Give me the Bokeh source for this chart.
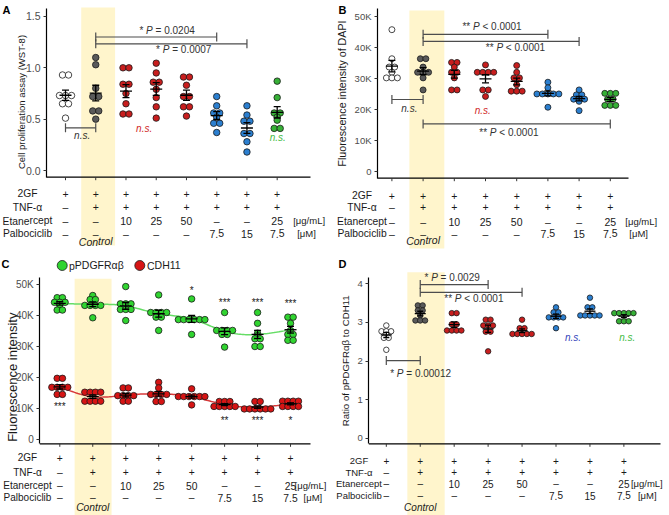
import numpy as np
from bokeh.plotting import figure
from bokeh.models import Range1d, LinearAxis, FixedTicker
from bokeh.layouts import row, column
from bokeh.embed import file_html
from bokeh.resources import INLINE
from bokeh.core.properties import value

FONT = "Liberation Sans"

# ---------------- data ----------------
columns = [1, 2, 3, 4, 5, 6, 7, 8]
row_names = ["2GF", "TNF-α", "Etanercept", "Palbociclib"]
row_2gf = ["+", "+", "+", "+", "+", "+", "+", "+"]
row_tnf = ["–", "+", "+", "+", "+", "+", "+", "+"]
row_etan = ["–", "–", "10", "25", "50", "–", "–", "25"]
row_palbo = ["–", "–", "–", "–", "–", "7.5", "15", "7.5"]
unit_etan = "[μg/mL]"
unit_palbo = "[μM]"
control_text = "Control"
control_col = 2
group_kind = ["white", "gray", "red", "red", "red", "blue", "blue", "green"]

# A: cell proliferation (WST-8)
wst8 = [
    [0.93, 0.93, 0.73, 0.73, 0.73, 0.65, 0.65, 0.51],
    [1.10, 1.03, 0.80, 0.72, 0.72, 0.58, 0.58, 0.50],
    [1.00, 1.00, 0.84, 0.84, 0.75, 0.65, 0.55, 0.55],
    [1.045, 0.95, 0.86, 0.86, 0.79, 0.71, 0.62, 0.51],
    [0.91, 0.91, 0.83, 0.72, 0.72, 0.62, 0.62, 0.53],
    [0.72, 0.63, 0.56, 0.56, 0.52, 0.46, 0.46, 0.37],
    [0.63, 0.54, 0.48, 0.48, 0.36, 0.36, 0.28, 0.18],
    [0.87, 0.71, 0.56, 0.56, 0.52, 0.49, 0.41, 0.41],
]
a_ticks = [0.0, 0.5, 1.0, 1.5]
a_tick_labels = ["0.0", "0.5", "1.0", "1.5"]
a_br_from = [1, 2, 2]
a_br_to = [2, 6, 7]
a_br_y = [0.416, 1.30, 1.233]
a_txt = ["* P = 0.0204", "* P = 0.0007"]
a_txt_x = [4.36, 4.91]
a_txt_y = [1.365, 1.175]
a_ns_x = [1.55, 3.6, 8.02]
a_ns_y = [0.34, 0.405, 0.32]
a_ns_kind = ["black", "red", "green"]

# B: DAPI fluorescence
dapi = [
    [45800, 36400, 33700, 33700, 32000, 30200, 30200, 30200],
    [36400, 36400, 33700, 32000, 32000, 32000, 30200, 26300],
    [35200, 35200, 33700, 32000, 32000, 30200, 26300, 26300],
    [34400, 32000, 32000, 32000, 32000, 26300, 26300, 24200],
    [34200, 32000, 30200, 30200, 28000, 25900, 25900, 25900],
    [28800, 27000, 25000, 25000, 25000, 25000, 25000, 20700],
    [26300, 24700, 24700, 23300, 23300, 23300, 22600, 19600],
    [25200, 25200, 25200, 23300, 23300, 21300, 21300, 21300],
]
k_ticks = [0, 10000, 20000, 30000, 40000, 50000]
k_tick_labels = ["0", "10K", "20K", "30K", "40K", "50K"]
b_br_from = [1, 2, 2, 2]
b_br_to = [2, 6, 7, 8]
b_br_y = [23200, 44300, 42000, 15300]
b_txt = ["** P < 0.0001", "** P < 0.0001", "** P < 0.0001"]
b_txt_x = [4.21, 4.96, 4.75]
b_txt_y = [46700, 40100, 12600]
b_ns_x = [1.56, 3.91]
b_ns_y = [20200, 19600]
b_ns_kind = ["black", "red"]

# C: pPDGFRab and CDH11 fluorescence
pdgfr = [
    [45800, 45800, 44300, 44300, 44300, 43500, 41800, 41800],
    [46500, 45200, 45200, 43300, 43300, 43300, 43300, 39300],
    [49400, 43800, 43800, 43800, 42000, 42000, 42000, 38400],
    [46700, 41000, 41000, 41000, 41000, 39500, 39500, 35200],
    [45400, 38700, 38700, 38700, 38700, 38700, 38700, 33900],
    [41000, 35200, 35200, 35200, 35200, 33900, 33900, 29800],
    [41000, 37500, 34300, 33500, 32500, 32500, 30000, 30000],
    [39500, 39500, 37500, 35200, 33900, 33900, 32000, 32000],
]
cdh11 = [
    [19700, 19700, 16800, 16800, 16800, 16800, 14500, 14500],
    [15200, 15200, 15200, 15200, 12300, 12300, 12300, 12300],
    [16600, 16600, 14100, 14100, 14100, 14100, 12300, 12300],
    [18400, 16600, 14500, 14500, 14500, 14500, 12200, 12200],
    [16300, 13800, 13800, 13800, 13800, 13800, 13800, 11100],
    [12200, 12200, 12200, 10600, 10600, 10600, 10600, 10600],
    [12200, 12200, 9800, 9800, 9800, 9800, 9800, 9800],
    [12300, 12300, 12300, 12300, 10600, 10600, 10600, 10600],
]
series_names = ["pPDGFRαβ", "CDH11"]
c_sig_top = ["", "", "", "", "*", "***", "***", "***"]
c_sig_top_y = [0, 0, 0, 0, 48800, 44900, 44800, 44600]
c_sig_bot = ["***", "", "", "", "", "**", "***", "*"]
c_sig_bot_y = [11200, 0, 0, 0, 0, 6600, 6800, 6800]

# D: ratio
ratio = [
    [2.92, 2.77, 2.77, 2.77, 2.68, 2.60, 2.60, 2.29],
    [3.44, 3.44, 3.31, 3.31, 3.18, 3.05, 3.05, 3.05],
    [3.24, 3.24, 2.95, 2.95, 2.79, 2.79, 2.79, 2.79],
    [3.07, 3.07, 2.92, 2.92, 2.92, 2.76, 2.76, 2.25],
    [3.07, 2.85, 2.85, 2.70, 2.70, 2.70, 2.70, 2.70],
    [3.39, 3.26, 3.26, 3.13, 3.13, 3.13, 3.13, 2.85],
    [3.64, 3.39, 3.39, 3.18, 3.18, 3.18, 3.18, 3.18],
    [3.24, 3.24, 3.24, 3.24, 3.24, 3.03, 3.03, 3.03],
]
d_ticks = [0, 1, 2, 3, 4]
d_tick_labels = ["0", "1", "2", "3", "4"]
d_br_from = [1, 2, 2]
d_br_to = [2, 4, 5]
d_br_y = [2.01, 3.98, 3.78]
d_txt = ["* P = 0.00012", "* P = 0.0029", "** P < 0.0001"]
d_txt_x = [2.01, 2.94, 3.58]
d_txt_y = [1.67, 4.17, 3.61]
d_ns_x = [6.50, 8.10]
d_ns_y = [2.60, 2.60]
d_ns_kind = ["blue2", "green"]

# ---------------- styles ----------------
FILL = {"white": "white", "gray": "#5a5a5a", "red": "#c81e1e",
        "blue": "#2b7fd0", "green": "#36b036"}
NS_COLOR = {"black": "#333333", "red": "#d02828", "green": "#44bb44", "blue2": "#3344bb"}
C_GREEN, C_RED = "#30d430", "#d61414"
BAND = "#fff5cc"
TXT = "#1a1a1a"
TINY = 1e-4   # near-zero text angle: keeps glyphs upright, avoids colour-fringed hinting

W_EM = {"*": 0.389, " ": 0.278, "P": 0.667, "=": 0.584, "<": 0.584, ".": 0.278}


def tw(s, fs):
    return sum(W_EM.get(c, 0.556) for c in s) * fs


class Geo:
    def __init__(self, W, H, fl, c1, sx, y0, sy):
        self.W, self.H, self.fl, self.c1 = W, H, fl, c1
        self.sx, self.y0, self.sy = sx, y0, sy

    def X(self, px):
        return 1 + (px - self.c1) / self.sx

    def Y(self, py):
        return (self.y0 - py) / self.sy

    def DX(self, px):
        return px / self.sx

    def DY(self, px):
        return px / self.sy


def new_fig(g):
    p = figure(width=g.W, height=g.H, output_backend="svg", toolbar_location=None,
               x_axis_type=None, y_axis_type=None,
               x_range=Range1d(g.X(0), g.X(g.W)),
               y_range=Range1d(g.Y(g.H), g.Y(0)),
               min_border_left=0, min_border_right=0,
               min_border_top=0, min_border_bottom=0)
    p.outline_line_color = None
    p.background_fill_color = "white"
    p.border_fill_color = "white"
    return p


def txt(p, xs, ys, texts, fs, align="center", baseline="middle", color=TXT,
        style="normal", angle=TINY):
    p.text(x=xs, y=ys, text=texts, text_font=value(FONT), text_font_size=fs,
           text_align=align, text_baseline=baseline, text_color=color,
           text_font_style=style, angle=angle)


def add_band(p, g, left, right, top_px, bot_px):
    p.quad(left=[left], right=[right], top=[g.Y(top_px)], bottom=[g.Y(bot_px)],
           fill_color=BAND, line_color=None)


def add_axes(p, g, ticks, labels, top_px, xaxis_px, end_px, fs, standoff=3):
    ax = LinearAxis(ticker=FixedTicker(ticks=ticks),
                    major_label_overrides={t: l for t, l in zip(ticks, labels)},
                    bounds=(g.Y(xaxis_px), g.Y(top_px)),
                    fixed_location=g.X(g.fl),
                    axis_line_color="black", axis_line_width=1.2,
                    major_tick_line_color="#333333", major_tick_out=3, major_tick_in=0,
                    minor_tick_out=0, minor_tick_in=0,
                    major_label_text_font=FONT, major_label_text_font_size=fs,
                    major_label_text_color="#4d4d4d", major_label_standoff=standoff)
    p.add_layout(ax, "left")
    yx = g.Y(xaxis_px)
    p.segment(x0=[g.X(g.fl)], y0=[yx], x1=[g.X(end_px)], y1=[yx],
              line_color="black", line_width=1.2)
    p.segment(x0=columns, y0=[yx] * 8, x1=columns, y1=[g.Y(xaxis_px + 3)] * 8,
              line_color="#333333", line_width=1)


def add_table(p, g, rows_px, control_px, label_cx, fs, label_fs, unit_off):
    for vals, rp in zip([row_2gf, row_tnf, row_etan, row_palbo], rows_px):
        txt(p, columns, [g.Y(rp)] * 8, vals, fs)
    txt(p, [g.X(label_cx)] * 4, [g.Y(rp) for rp in rows_px], row_names, label_fs)
    txt(p, [control_col], [g.Y(control_px)], [control_text], fs, style="italic")
    txt(p, [columns[-1] + g.DX(o) for o in unit_off], [g.Y(rp) for rp in rows_px[2:]],
        [unit_etan, unit_palbo], "9.5px", align="left")


def swarm(vals, g, spacing, tol=1.5):
    vals = np.asarray(vals, float)
    order = np.argsort(-vals, kind="stable")
    rows = []
    for i in order:
        if rows and abs(vals[rows[-1][0]] - vals[i]) * g.sy < tol:
            rows[-1].append(i)
        else:
            rows.append([i])
    offs = np.zeros(len(vals))
    for r in rows:
        n = len(r)
        for k, i in enumerate(r):
            offs[i] = (k - (n - 1) / 2) * spacing / g.sx
    return offs


def add_dots(p, g, data, fills, diam, spacing):
    for i, vals in enumerate(data):
        offs = swarm(vals, g, spacing)
        p.scatter(x=[columns[i] + o for o in offs], y=vals, size=diam,
                  fill_color=fills[i], line_color="#1a1a1a", line_width=0.8)


def add_errbars(p, g, data, mean_w=12, cap_w=7):
    for i, vals in enumerate(data):
        v = np.asarray(vals, float)
        m = v.mean()
        se = v.std(ddof=1) / np.sqrt(len(v))
        x = columns[i]
        p.segment(x0=[x], y0=[m - se], x1=[x], y1=[m + se], line_color="black", line_width=1.3)
        p.segment(x0=[x - g.DX(cap_w / 2)] * 2, y0=[m - se, m + se],
                  x1=[x + g.DX(cap_w / 2)] * 2, y1=[m - se, m + se],
                  line_color="black", line_width=1.3)
        p.segment(x0=[x - g.DX(mean_w / 2)], y0=[m], x1=[x + g.DX(mean_w / 2)], y1=[m],
                  line_color="black", line_width=1.3)


def add_brackets(p, g, x0s, x1s, ys, cap=4.5):
    p.segment(x0=x0s, y0=ys, x1=x1s, y1=ys, line_color="#4d4d4d", line_width=1.2)
    for xs in (x0s, x1s):
        p.segment(x0=xs, y0=[y - g.DY(cap) for y in ys], x1=xs,
                  y1=[y + g.DY(cap) for y in ys], line_color="#4d4d4d", line_width=1.2)


def add_ptext(p, g, s, x, y, fs=10):
    pre, post = s.split("P", 1)
    wpre, wP = tw(pre, fs), tw("P", fs)
    left = x - g.DX((wpre + wP + tw(post, fs)) / 2)
    lead = len(post) - len(post.lstrip())
    f = f"{fs}px"
    txt(p, [left], [y], [pre.strip()], f, align="left", color="#333333")
    txt(p, [left + g.DX(wpre)], [y], ["P"], f, align="left", color="#333333", style="italic")
    txt(p, [left + g.DX(wpre + wP + tw(" " * lead, fs))], [y], [post.strip()], f,
        align="left", color="#333333")


def add_ns(p, xs, ys, kinds, fs="10px"):
    p.text(x=xs, y=ys, text=["n.s."] * len(xs), text_font=value(FONT),
           text_font_size=fs, text_font_style="italic", text_align="center",
           text_baseline="middle", text_color=[NS_COLOR[k] for k in kinds], angle=TINY)


def add_title(p, g, text, cx, cy, fs):
    txt(p, [g.X(cx)], [g.Y(cy)], [text], fs, angle=np.pi / 2)


def add_letter(p, g, letter, lx, ly):
    txt(p, [g.X(lx)], [g.Y(ly)], [letter], "11px", align="left", baseline="top",
        color="black", style="bold")


def natural_spline(xs, ys, xf):
    xs = np.asarray(xs, float); ys = np.asarray(ys, float)
    n = len(xs); h = np.diff(xs)
    A = np.zeros((n, n)); r = np.zeros(n)
    A[0, 0] = A[-1, -1] = 1
    for i in range(1, n - 1):
        A[i, i - 1] = h[i - 1]; A[i, i] = 2 * (h[i - 1] + h[i]); A[i, i + 1] = h[i]
        r[i] = 3 * ((ys[i + 1] - ys[i]) / h[i] - (ys[i] - ys[i - 1]) / h[i - 1])
    c = np.linalg.solve(A, r)
    b = (ys[1:] - ys[:-1]) / h - h * (2 * c[:-1] + c[1:]) / 3
    d = (c[1:] - c[:-1]) / (3 * h)
    idx = np.clip(np.searchsorted(xs, xf) - 1, 0, n - 2)
    t = xf - xs[idx]
    return ys[idx] + b[idx] * t + c[idx] * t ** 2 + d[idx] * t ** 3


fills_std = [FILL[k] for k in group_kind]

# ---------------- Panel A ----------------
gA = Geo(W=335, H=252, fl=46, c1=65, sx=30.24, y0=170, sy=102.7)
pA = new_fig(gA)
add_band(pA, gA, 1.52, 2.64, 7, 245)
add_axes(pA, gA, a_ticks, a_tick_labels, 8, 176.7, 310, "10.5px")
add_brackets(pA, gA, a_br_from, a_br_to, a_br_y)
for s, x, y in zip(a_txt, a_txt_x, a_txt_y):
    add_ptext(pA, gA, s, x, y)
add_ns(pA, a_ns_x, a_ns_y, a_ns_kind)
add_dots(pA, gA, wst8, fills_std, 6.5, 6)
add_errbars(pA, gA, wst8)
add_table(pA, gA, [193.3, 206.7, 220.5, 233], 241, 27, "10.5px", "10.3px", [16, 20])
add_title(pA, gA, "Cell proliferation assay (WST-8)", 21, 101.5, "9.5px")
add_letter(pA, gA, "A", 2, 3)

# ---------------- Panel B ----------------
gB = Geo(W=334, H=252, fl=42, c1=56.4, sx=31.2, y0=170.7, sy=0.00309)
pB = new_fig(gB)
add_band(pB, gB, 1.56, 2.68, 10, 248)
add_axes(pB, gB, k_ticks, k_tick_labels, 8, 177.7, 293, "9.5px")
add_brackets(pB, gB, b_br_from, b_br_to, b_br_y)
for s, x, y in zip(b_txt, b_txt_x, b_txt_y):
    add_ptext(pB, gB, s, x, y)
add_ns(pB, b_ns_x, b_ns_y, b_ns_kind)
add_dots(pB, gB, dapi, fills_std, 6, 5.5)
add_errbars(pB, gB, dapi)
add_table(pB, gB, [195, 206.7, 221, 233], 240, 26.5, "10.5px", "10.3px", [15, 19])
add_title(pB, gB, "Fluorescence intensity of DAPI", 6, 93, "10.7px")
add_letter(pB, gB, "B", 3, 3)

# ---------------- Panel C ----------------
gC = Geo(W=335, H=263, fl=39.3, c1=59.3, sx=32.96, y0=186.7, sy=0.00309)
pC = new_fig(gC)
add_band(pC, gC, 1.45, 2.57, 26.3, 263)
add_axes(pC, gC, k_ticks, k_tick_labels, 24.7, 191.3, 310, "10px")
xf = np.linspace(1, 8, 141)
for data, col in ((pdgfr, "#66dd66"), (cdh11, "#d83a3a")):
    means = [float(np.mean(v)) for v in data]
    pC.line(x=xf, y=natural_spline(columns, means, xf), line_color=col, line_width=1.5)
add_dots(pC, gC, pdgfr, [C_GREEN] * 8, 6.5, 5.3)
add_dots(pC, gC, cdh11, [C_RED] * 8, 6.5, 5.3)
add_errbars(pC, gC, pdgfr)
add_errbars(pC, gC, cdh11)
for sig, ys in ((c_sig_top, c_sig_top_y), (c_sig_bot, c_sig_bot_y)):
    xs = [c for c, s in zip(columns, sig) if s]
    yy = [y - gC.DY(2) for y, s in zip(ys, sig) if s]
    txt(pC, xs, yy, [s for s in sig if s], "10px")
# legend
pC.scatter(x=[gC.X(61.7), gC.X(139.3)], y=[gC.Y(13)] * 2, size=10,
           fill_color=[C_GREEN, C_RED], line_color="#1a1a1a", line_width=0.8)
txt(pC, [gC.X(68.5), gC.X(146.5)], [gC.Y(13)] * 2, series_names, "10.5px", align="left")
add_table(pC, gC, [205.3, 219.7, 233, 245.3], 254.7, 27, "10.3px", "10px", [4, 13])
add_title(pC, gC, "Fluorescence intensity", 11.7, 124.7, "13px")
add_letter(pC, gC, "C", 1, 5)

# ---------------- Panel D ----------------
gD = Geo(W=334, H=263, fl=33.3, c1=50.8, sx=33.94, y0=185.7, sy=38.6)
pD = new_fig(gD)
add_band(pD, gD, 1.62, 2.72, 19.7, 263)
add_axes(pD, gD, d_ticks, d_tick_labels, 24.7, 191.3, 325, "9.5px")
add_brackets(pD, gD, d_br_from, d_br_to, d_br_y)
for s, x, y in zip(d_txt, d_txt_x, d_txt_y):
    add_ptext(pD, gD, s, x, y)
add_ns(pD, d_ns_x, d_ns_y, d_ns_kind)
add_dots(pD, gD, ratio, fills_std, 5.5, 4.8)
add_errbars(pD, gD, ratio, mean_w=11, cap_w=6)
add_table(pD, gD, [208, 219.7, 231.3, 243], 254.7, 23.5, "10px", "9.5px", [7, 14])
add_title(pD, gD, "Ratio of pPDGFRαβ  to CDH11", 10, 107, "9.7px")
add_letter(pD, gD, "D", 3, 5)

layout = column(row(pA, pB), row(pC, pD))
open("out.html", "w").write(file_html(layout, INLINE))
